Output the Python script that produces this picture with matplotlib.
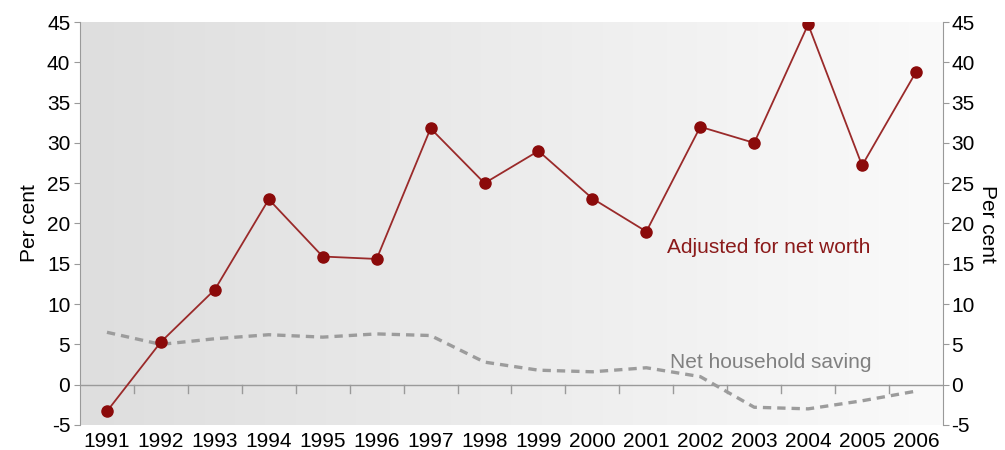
import numpy as np
import matplotlib.pyplot as plt
from matplotlib.colors import LinearSegmentedColormap

plt.rcParams['font.family'] = ['Liberation Sans', 'DejaVu Sans']
plt.rcParams['axes.unicode_minus'] = False

years = list(range(1991, 2007))
adjusted = [-3.3, 5.3, 11.8, 23.0, 15.9, 15.6, 31.8, 25.0, 29.0, 23.1, 19.0,
            32.0, 30.0, 44.7, 27.2, 38.8]
saving = [6.5, 5.0, 5.7, 6.2, 5.9, 6.3, 6.1, 2.8, 1.8, 1.6, 2.1, 1.0, -2.8,
          -3.0, -2.0, -0.8]
yticks = list(range(-5, 50, 5))

fig = plt.figure(figsize=(10.05, 4.5), dpi=100)
ax = fig.add_axes([0.0796, 0.0556, 0.8587, 0.8955])

# shaded background, darker on the left
grad = np.linspace(0, 1, 256).reshape(1, -1)
bg = LinearSegmentedColormap.from_list('bg', ['#dedede', '#fafafa'])
ax.imshow(grad, extent=[1990.5, 2006.5, -5, 45], aspect='auto', cmap=bg, zorder=0)

ax.axhline(0, color='#9a9a9a', lw=1, zorder=1)
for x in np.arange(1991.5, 2006, 1):
    ax.plot([x, x], [0, -1.0], color='#9a9a9a', lw=1, zorder=1)

ax.plot(years, saving, color='#9c9c9c', lw=2.4, dashes=(2.5, 1.8), zorder=2)
ax.plot(years, adjusted, color='#9a2a2a', lw=1.3, marker='o', ms=8,
        mfc='#8b0a0a', mec='#8b0a0a', zorder=3)

ax.text(2003.26, 17.0, 'Adjusted for net worth', color='#8b1a1a',
        fontsize=15, ha='center', va='center')
ax.text(2003.3, 2.8, 'Net household saving', color='#808080',
        fontsize=15, ha='center', va='center')

ax.set_xlim(1990.5, 2006.5)
ax.set_ylim(-5, 45)
ax.set_xticks(years)
ax.set_yticks(yticks)
ax.tick_params(axis='x', length=0, labelsize=15, pad=5)
ax.tick_params(axis='y', length=4, color='#9a9a9a', labelsize=15, pad=3)
for s in ['top', 'right', 'bottom']:
    ax.spines[s].set_visible(False)
ax.spines['left'].set_color('#9a9a9a')
ax.set_ylabel('Per cent', fontsize=15, labelpad=6)

ax2 = ax.twinx()
ax2.set_ylim(-5, 45)
ax2.set_yticks(yticks)
ax2.tick_params(axis='y', length=4, color='#9a9a9a', labelsize=15, pad=2)
for s in ['top', 'left', 'bottom']:
    ax2.spines[s].set_visible(False)
ax2.spines['right'].set_color('#9a9a9a')
ax2.set_ylabel('Per cent', fontsize=15, rotation=-90, labelpad=16)

fig.savefig('out.png', dpi=100)
